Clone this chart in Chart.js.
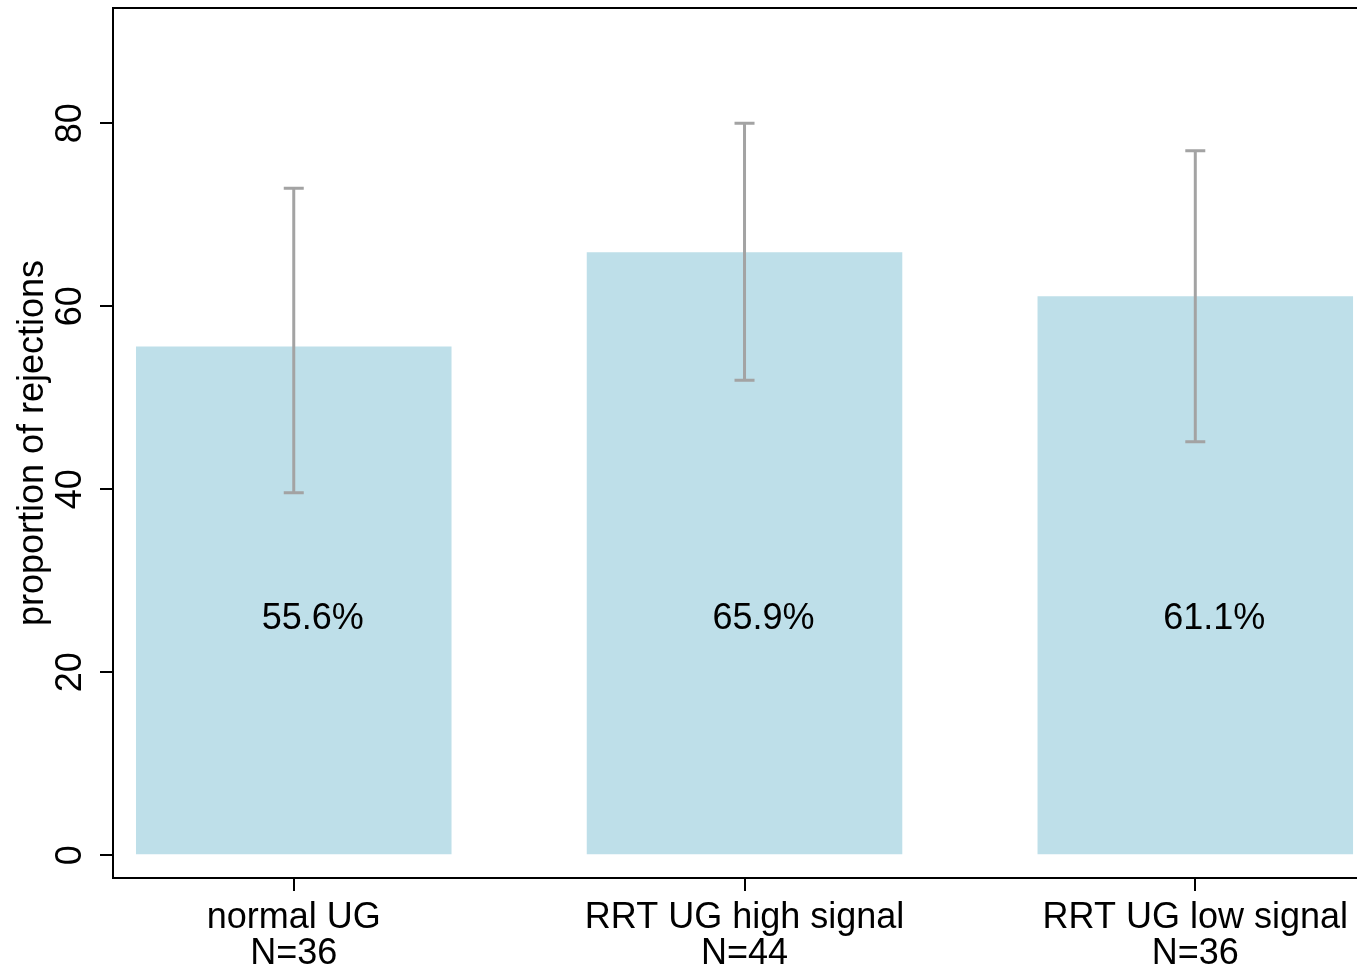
<!DOCTYPE html>
<html>
<head>
<meta charset="utf-8">
<script src="https://cdn.jsdelivr.net/npm/chart.js@4.4.1/dist/chart.umd.min.js"></script>
<style>
html, body { margin: 0; padding: 0; background: #fff; }
#wrap { width: 1357px; height: 971px; position: relative; }
</style>
</head>
<body>
<div id="wrap"><canvas id="chart"></canvas></div>
<script>
// group data
const groups = ['normal UG', 'RRT UG high signal', 'RRT UG low signal'];
const sampleSizes = [36, 44, 36];
const positions = [1, 2, 3];
const proportions = [55.6, 65.9, 61.1];
const ciLow = [39.6, 51.9, 45.2];
const ciHigh = [72.9, 80.0, 77.0];
const yTicks = [0, 20, 40, 60, 80];

const FONT = "'Liberation Sans', Arial, Helvetica, sans-serif";
const FONT_SIZE = 36;
const BAR_COLOR = '#bedfe9';
const CI_COLOR = '#a3a3a3';

// top frame line (Stata draws the box except on the cropped right side)
const framePlugin = {
    id: 'frame',
    afterDraw(chart) {
        const { ctx, chartArea } = chart;
        ctx.save();
        ctx.strokeStyle = '#000';
        ctx.lineWidth = 2;
        ctx.beginPath();
        ctx.moveTo(chartArea.left - 1, chartArea.top);
        ctx.lineTo(chart.width, chartArea.top);
        ctx.stroke();
        ctx.restore();
    }
};

// confidence interval whiskers
const ciPlugin = {
    id: 'ciBars',
    afterDatasetsDraw(chart) {
        const { ctx, scales: { x, y } } = chart;
        ctx.save();
        ctx.strokeStyle = CI_COLOR;
        ctx.lineWidth = 3;
        positions.forEach((p, i) => {
            const px = x.getPixelForValue(p);
            const lo = y.getPixelForValue(ciLow[i]);
            const hi = y.getPixelForValue(ciHigh[i]);
            ctx.beginPath();
            ctx.moveTo(px, lo);
            ctx.lineTo(px, hi);
            ctx.moveTo(px - 10, lo);
            ctx.lineTo(px + 10, lo);
            ctx.moveTo(px - 10, hi);
            ctx.lineTo(px + 10, hi);
            ctx.stroke();
        });
        ctx.restore();
    }
};

// percentage labels inside the bars
const valueLabelPlugin = {
    id: 'valueLabels',
    afterDatasetsDraw(chart) {
        const { ctx, scales: { x, y } } = chart;
        ctx.save();
        ctx.fillStyle = '#000';
        ctx.font = FONT_SIZE + 'px ' + FONT;
        ctx.textAlign = 'center';
        ctx.textBaseline = 'middle';
        positions.forEach((p, i) => {
            ctx.fillText(proportions[i].toFixed(1) + '%', x.getPixelForValue(p) + 19, y.getPixelForValue(25.8));
        });
        ctx.restore();
    }
};

// rotated y tick labels
const yTickLabelPlugin = {
    id: 'yTickLabels',
    afterDraw(chart) {
        const { ctx, scales: { y } } = chart;
        ctx.save();
        ctx.fillStyle = '#000';
        ctx.font = FONT_SIZE + 'px ' + FONT;
        ctx.textAlign = 'center';
        ctx.textBaseline = 'middle';
        yTicks.forEach(v => {
            ctx.save();
            ctx.translate(71, y.getPixelForValue(v));
            ctx.rotate(-Math.PI / 2);
            ctx.fillText(String(v), 0, 0);
            ctx.restore();
        });
        ctx.restore();
    }
};

new Chart(document.getElementById('chart'), {
    type: 'bar',
    data: {
        datasets: [{
            data: positions.map((p, i) => ({ x: p, y: proportions[i] })),
            backgroundColor: BAR_COLOR,
            borderWidth: 0,
            barPercentage: 0.7,
            categoryPercentage: 1.0,
        }]
    },
    plugins: [framePlugin, ciPlugin, valueLabelPlugin, yTickLabelPlugin],
    options: {
        responsive: true,
        maintainAspectRatio: false,
        animation: false,
        layout: { padding: { top: 8, right: 0, left: 0, bottom: 0 } },
        plugins: {
            legend: { display: false },
            tooltip: { enabled: false }
        },
        scales: {
            x: {
                type: 'linear',
                offset: false,
                min: 0.599,
                max: 3.357,
                afterBuildTicks: s => { s.ticks = positions.map(v => ({ value: v })); },
                afterFit: s => { s.height = 93; },
                grid: {
                    offset: false,
                    drawOnChartArea: false,
                    drawTicks: true,
                    tickLength: 13,
                    color: '#000',
                    lineWidth: 2,
                },
                border: { display: true, color: '#000', width: 2 },
                ticks: {
                    color: '#000',
                    padding: 9,
                    maxRotation: 0,
                    autoSkip: false,
                    font: { family: FONT, size: FONT_SIZE, lineHeight: 1.0 },
                    callback: v => {
                        const i = positions.indexOf(v);
                        return i < 0 ? '' : [groups[i], 'N=' + sampleSizes[i]];
                    }
                }
            },
            y: {
                min: -2.5,
                max: 92.6,
                afterBuildTicks: s => { s.ticks = yTicks.map(v => ({ value: v })); },
                afterFit: s => { s.width = 113; },
                grid: {
                    drawOnChartArea: false,
                    drawTicks: true,
                    tickLength: 13,
                    color: '#000',
                    lineWidth: 2,
                },
                border: { display: true, color: '#000', width: 2 },
                ticks: { display: false },
                title: {
                    display: true,
                    text: 'proportion of rejections',
                    color: '#000',
                    padding: { top: 11, bottom: 0 },
                    font: { family: FONT, size: FONT_SIZE }
                }
            }
        }
    }
});
</script>
</body>
</html>
